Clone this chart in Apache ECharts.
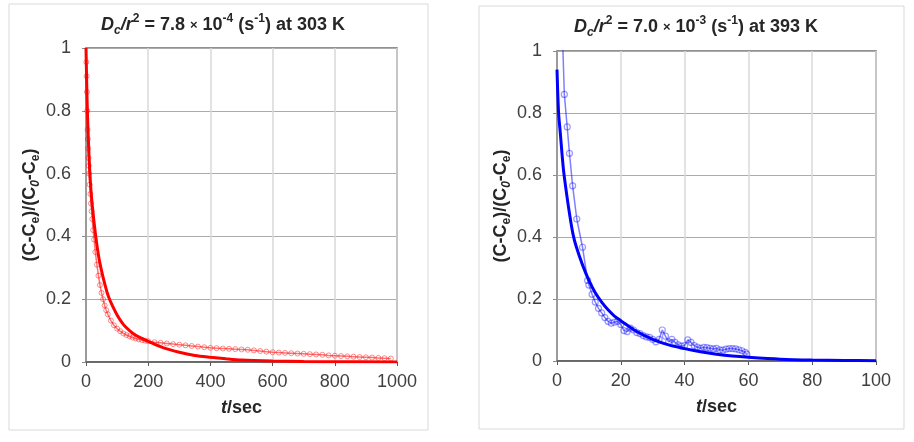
<!DOCTYPE html>
<html>
<head>
<meta charset="utf-8">
<script src="https://cdn.jsdelivr.net/npm/echarts@6/dist/echarts.min.js"></script>
<style>
  html, body { margin: 0; padding: 0; background: #fff; }
  #chart { width: 914px; height: 442px; }
</style>
</head>
<body>
<div id="chart"></div>
<script>
// 303 K: measured points (t, value)
const leftDataT = [1, 2, 3, 4, 5, 6, 7, 8, 9, 10, 12, 14, 16, 18, 20, 23, 26, 30, 35, 40, 45, 50, 55, 60, 65, 70, 80, 90, 100, 110, 120, 130, 140, 150, 160, 170, 180, 190, 200,
  220, 240, 260, 280, 300, 320, 340, 360, 380, 400, 420, 440, 460, 480, 500, 520, 540, 560, 580, 600,
  620, 640, 660, 680, 700, 720, 740, 760, 780, 800, 820, 840, 860, 880, 900, 920, 940, 960, 980];
const leftDataV = [0.955, 0.91, 0.86, 0.8, 0.74, 0.71, 0.68, 0.65, 0.625, 0.6, 0.565, 0.535, 0.505, 0.48, 0.455, 0.42, 0.39, 0.35, 0.31, 0.275, 0.245, 0.22, 0.2, 0.18, 0.165, 0.152, 0.132, 0.117, 0.106, 0.098, 0.091, 0.086, 0.082, 0.078, 0.075, 0.072, 0.07, 0.068, 0.066,
  0.063, 0.061, 0.059, 0.057, 0.055, 0.053, 0.051, 0.049, 0.047, 0.045, 0.044, 0.043, 0.042, 0.041, 0.04, 0.039, 0.037, 0.035, 0.033, 0.031,
  0.03, 0.029, 0.028, 0.027, 0.026, 0.025, 0.024, 0.023, 0.021, 0.02, 0.019, 0.018, 0.017, 0.016, 0.015, 0.014, 0.013, 0.012, 0.011];
// 303 K: model curve
const leftModelT = [0, 2, 5, 10, 15, 20, 30, 40, 50, 60, 70, 80, 100, 120, 140, 160, 180, 200, 250, 300, 350, 400, 450, 500, 600, 700, 800, 1000];
const leftModelV = [1.0, 0.9, 0.78, 0.65, 0.56, 0.5, 0.41, 0.34, 0.29, 0.25, 0.215, 0.19, 0.15, 0.12, 0.1, 0.085, 0.075, 0.066, 0.045, 0.031, 0.021, 0.015, 0.01, 0.006, 0.003, 0.0015, 0.0008, 0];

// 393 K: measured points
const rightDataT = [1.4, 2.3, 3.2, 3.9, 4.9, 6.2, 8.0, 9.6, 10, 11, 12, 13, 14, 15, 16, 17, 18, 19, 20, 21, 22, 23, 24, 25, 26, 27, 28, 29, 30,
  31, 32, 33, 34, 35, 36, 37, 38, 39, 40, 41, 42, 43, 44, 45, 46, 47, 48, 49, 50, 51, 52, 53, 54, 55, 56, 57, 58, 59, 59.5];
const rightDataV = [1.15, 0.86, 0.755, 0.67, 0.565, 0.458, 0.367, 0.26, 0.245, 0.215, 0.19, 0.17, 0.155, 0.14, 0.128, 0.122, 0.125, 0.128, 0.118, 0.098, 0.095, 0.106, 0.1, 0.092, 0.088, 0.082, 0.078, 0.076, 0.07,
  0.062, 0.07, 0.1, 0.08, 0.062, 0.07, 0.06, 0.052, 0.048, 0.05, 0.068, 0.06, 0.05, 0.045, 0.041, 0.044, 0.043, 0.041, 0.039, 0.041, 0.036, 0.035, 0.038, 0.04, 0.04, 0.039, 0.036, 0.033, 0.028, 0.022];
// 393 K: model curve
const rightModelT = [0, 0.5, 1, 2, 3, 4, 5, 6, 8, 10, 12, 14, 16, 18, 20, 25, 30, 35, 40, 45, 50, 55, 60, 70, 80, 90, 100];
const rightModelV = [0.94, 0.8, 0.74, 0.62, 0.54, 0.47, 0.41, 0.37, 0.31, 0.26, 0.22, 0.19, 0.165, 0.145, 0.13, 0.095, 0.07, 0.052, 0.04, 0.03, 0.022, 0.016, 0.012, 0.006, 0.003, 0.0015, 0.001];

const yTicks = ['0', '0.2', '0.4', '0.6', '0.8', '1'];

const pair = (t, v) => t.map((x, i) => [x, v[i]]);

const font = 'Liberation Sans, Arial, sans-serif';
const ink = '#262626';
const titleRich = {
  b: { fontSize: 18, fontWeight: 'bold', fontFamily: font, color: ink, lineHeight: 24 },
  it: { fontSize: 18, fontWeight: 'bold', fontStyle: 'italic', fontFamily: font, color: ink, lineHeight: 24 },
  x: { fontSize: 13, fontFamily: font, color: ink, lineHeight: 24 },
  sup: { fontSize: 12, fontWeight: 'bold', fontFamily: font, color: ink, verticalAlign: 'top', lineHeight: 24 },
  sub: { fontSize: 12, fontWeight: 'bold', fontStyle: 'italic', fontFamily: font, color: ink, verticalAlign: 'bottom', lineHeight: 24 }
};
const nameRich = {
  sub: { fontSize: 12, fontWeight: 'bold', fontFamily: font, color: ink, verticalAlign: 'bottom', lineHeight: 24 },
  subi: { fontSize: 12, fontWeight: 'bold', fontStyle: 'italic', fontFamily: font, color: ink, verticalAlign: 'bottom', lineHeight: 24 },
  it: { fontSize: 18, fontWeight: 'bold', fontStyle: 'italic', fontFamily: font, color: ink, lineHeight: 24 }
};

function xAxis(idx, max, interval) {
  return {
    type: 'value', gridIndex: idx, min: 0, max: max, interval: interval,
    name: '{it|t}/sec', nameLocation: 'middle', nameGap: 34,
    nameTextStyle: { fontSize: 18, fontWeight: 'bold', fontFamily: font, color: ink, rich: nameRich },
    axisLine: { lineStyle: { color: '#595959', width: 1.5 } },
    axisTick: { show: true, length: 4, lineStyle: { color: '#595959' } },
    axisLabel: { fontSize: 18, fontFamily: font, color: '#404040', margin: 11, formatter: v => String(v) },
    splitLine: { show: true, lineStyle: { color: '#d9d9d9', width: 1.5 } }
  };
}
function yAxis(idx, gap) {
  return {
    type: 'value', gridIndex: idx, min: 0, max: 1, interval: 0.2,
    name: '(C-C{sub|e})/(C{subi|0}-C{sub|e})', nameLocation: 'middle', nameRotate: 90, nameGap: gap,
    nameTextStyle: { fontSize: 18, fontWeight: 'bold', fontFamily: font, color: ink, rich: nameRich },
    axisLine: { show: true, lineStyle: { color: '#8c8c8c', width: 1.5 } },
    axisTick: { show: true, length: 4, lineStyle: { color: '#8c8c8c' } },
    axisLabel: {
      fontSize: 18, fontFamily: font, color: '#404040', margin: 15,
      formatter: v => yTicks[Math.round(v * 5)]
    },
    splitLine: { show: true, lineStyle: { color: '#ababab', width: 1 } }
  };
}

const chart = echarts.init(document.getElementById('chart'));
chart.setOption({
  animation: false,
  backgroundColor: '#fff',
  graphic: [
    { type: 'rect', shape: { x: 9, y: 4, width: 419, height: 426 }, style: { fill: 'none', stroke: '#d9d9d9', lineWidth: 1 } },
    { type: 'rect', shape: { x: 479, y: 6, width: 425, height: 423 }, style: { fill: 'none', stroke: '#d9d9d9', lineWidth: 1 } }
  ],
  title: [
    { text: '{it|D}{sub|c}{it|/r}{sup|2}{b| = 7.8 }{x|×}{b| 10}{sup|-4}{b| (s}{sup|-1}{b|) at 303 K}',
      left: 218, top: 8, textAlign: 'center', textStyle: { rich: titleRich } },
    { text: '{it|D}{sub|c}{it|/r}{sup|2}{b| = 7.0 }{x|×}{b| 10}{sup|-3}{b| (s}{sup|-1}{b|) at 393 K}',
      left: 691, top: 10, textAlign: 'center', textStyle: { rich: titleRich } }
  ],
  grid: [
    { left: 86, top: 48, width: 311, height: 314, show: true, borderColor: '#6e6e6e', borderWidth: 1.5, backgroundColor: 'transparent' },
    { left: 557, top: 51, width: 319, height: 310, show: true, borderColor: '#6e6e6e', borderWidth: 1.5, backgroundColor: 'transparent' }
  ],
  xAxis: [xAxis(0, 1000, 200), xAxis(1, 100, 20)],
  yAxis: [yAxis(0, 39), yAxis(1, 41)],
  series: [
    {
      type: 'line', xAxisIndex: 0, yAxisIndex: 0, data: pair(leftDataT, leftDataV),
      symbol: 'circle', symbolSize: 5,
      itemStyle: { color: 'rgba(255,255,255,0)', borderColor: 'rgba(255,0,0,0.45)', borderWidth: 1 },
      lineStyle: { color: 'rgba(255,0,0,0.55)', width: 1.5 }
    },
    {
      type: 'line', xAxisIndex: 0, yAxisIndex: 0, data: pair(leftModelT, leftModelV),
      showSymbol: false, smooth: 0.3, lineStyle: { color: '#ff0000', width: 3 }
    },
    {
      type: 'line', xAxisIndex: 1, yAxisIndex: 1, data: pair(rightDataT, rightDataV),
      symbol: 'circle', symbolSize: 6, clip: true,
      itemStyle: { color: 'rgba(255,255,255,0)', borderColor: 'rgba(0,0,255,0.4)', borderWidth: 1.2 },
      lineStyle: { color: 'rgba(0,0,255,0.5)', width: 1.5 }
    },
    {
      type: 'line', xAxisIndex: 1, yAxisIndex: 1, data: pair(rightModelT, rightModelV),
      showSymbol: false, smooth: 0.3, lineStyle: { color: '#0000ff', width: 3 }
    }
  ]
});
</script>
</body>
</html>
